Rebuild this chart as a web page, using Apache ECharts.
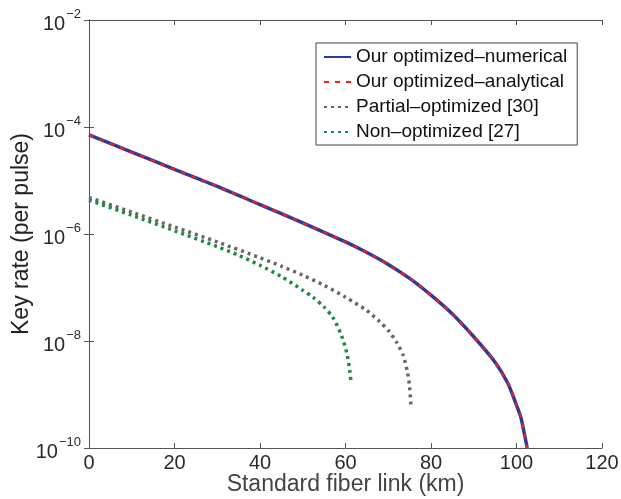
<!DOCTYPE html>
<html>
<head>
<meta charset="utf-8">
<script src="https://cdn.jsdelivr.net/npm/echarts@6/dist/echarts.min.js"></script>
<style>html,body{margin:0;padding:0;background:#fff}#c{width:621px;height:499px}</style>
</head>
<body>
<div id="c"></div>
<script>
// Data (x in km, y = key rate per pulse)
const numericalKm = [0, 10, 20, 30, 40, 50, 60, 65, 70, 75, 80, 85, 90, 95, 98, 100, 101, 102, 102.5];
const numericalRate = [7.1e-5, 3.4e-5, 1.62e-5, 7.8e-6, 3.55e-6, 1.62e-6, 7.1e-7, 4.5e-7, 2.7e-7, 1.48e-7, 7.2e-8, 3.2e-8, 1.2e-8, 4.0e-9, 1.6e-9, 6.3e-10, 3.8e-10, 1.6e-10, 1.0e-10];
const analyticalKm = [0, 10, 20, 30, 40, 50, 60, 65, 70, 75, 80, 85, 90, 95, 98, 100, 101, 102, 102.5];
const analyticalRate = [7.1e-5, 3.4e-5, 1.62e-5, 7.8e-6, 3.55e-6, 1.62e-6, 7.1e-7, 4.5e-7, 2.7e-7, 1.48e-7, 7.2e-8, 3.2e-8, 1.2e-8, 4.0e-9, 1.6e-9, 6.3e-10, 3.8e-10, 1.6e-10, 1.0e-10];
const partialKm = [0, 10, 20, 30, 40, 45, 50, 55, 60, 65, 68, 70, 72, 73.5, 74.5, 75, 75.3];
const partialRate = [4.8e-6, 2.57e-6, 1.35e-6, 7.1e-7, 3.6e-7, 2.5e-7, 1.7e-7, 1.1e-7, 6.6e-8, 3.7e-8, 2.3e-8, 1.58e-8, 9.3e-9, 5.4e-9, 2.6e-9, 1.4e-9, 6.3e-10];
const nonKm = [0, 10, 20, 30, 35, 40, 45, 50, 52.5, 55, 57, 59, 60.3, 61, 61.3];
const nonRate = [4.3e-6, 2.24e-6, 1.15e-6, 5.8e-7, 4.0e-7, 2.6e-7, 1.6e-7, 8.9e-8, 6.5e-8, 4.3e-8, 2.8e-8, 1.3e-8, 6.0e-9, 2.8e-9, 1.66e-9];
const seriesNames = ['Our optimized\u2013numerical', 'Our optimized\u2013analytical', 'Partial\u2013optimized [30]', 'Non\u2013optimized [27]'];
const xTicks = [0, 20, 40, 60, 80, 100, 120];
const yTickExponents = [-10, -8, -6, -4, -2];

const zip = (a, b) => a.map((v, i) => [v, b[i]]);
const font = 'Liberation Sans, Arial, sans-serif';
const txt = '#2a2a2a';

const chart = echarts.init(document.getElementById('c'));
chart.setOption({
  animation: false,
  backgroundColor: '#fff',
  grid: { left: 89, right: 19, top: 20, bottom: 51, containLabel: false, outerBoundsMode: 'none' },
  legend: {
    orient: 'vertical', left: 316, top: 43,
    backgroundColor: '#fff', borderColor: '#444', borderWidth: 1,
    padding: [4, 10, 3, 7], itemGap: 5, itemWidth: 27, itemHeight: 14,
    itemStyle: { opacity: 0 },
    textStyle: { fontFamily: font, fontSize: 19, lineHeight: 20, color: '#111' },
    data: seriesNames
  },
  xAxis: [{
    type: 'value', min: xTicks[0], max: xTicks[xTicks.length - 1], interval: 20,
    name: 'Standard fiber link (km)', nameLocation: 'middle', nameGap: 25, nameMoveOverlap: false,
    nameTextStyle: { fontFamily: font, fontSize: 23, color: '#444' },
    axisLine: { lineStyle: { color: '#555', width: 1 } },
    axisTick: { inside: true, length: 5, lineStyle: { color: '#555' } },
    axisLabel: { fontFamily: font, fontSize: 20, color: txt, margin: 5 },
    splitLine: { show: false }
  }, {
    type: 'value', position: 'top', min: 0, max: 120, interval: 20,
    axisLine: { lineStyle: { color: '#555', width: 1 } },
    axisTick: { inside: true, length: 5, lineStyle: { color: '#555' } },
    axisLabel: { show: false }, splitLine: { show: false }
  }],
  yAxis: [{
    type: 'log', logBase: 100, min: Math.pow(10, yTickExponents[0]), max: Math.pow(10, yTickExponents[yTickExponents.length - 1]),
    name: 'Key rate (per pulse)', nameLocation: 'middle', nameGap: 56, nameRotate: 90, nameMoveOverlap: false,
    nameTextStyle: { fontFamily: font, fontSize: 23, color: '#222' },
    axisLine: { lineStyle: { color: '#555', width: 1 } },
    axisTick: { inside: true, length: 5, lineStyle: { color: '#555' } },
    minorTick: { show: false },
    axisLabel: {
      margin: 8,
      formatter: v => '{b|10}{s|\u2212' + Math.abs(Math.round(Math.log10(v))) + '}',
      rich: {
        b: { fontFamily: font, fontSize: 20, color: txt, padding: [8, 0, 0, 0] },
        s: { fontFamily: font, fontSize: 13, color: txt, padding: [0, 0, 12, 1] }
      }
    },
    splitLine: { show: false }
  }, {
    type: 'log', logBase: 100, min: 1e-10, max: 1e-2, position: 'right',
    axisLine: { lineStyle: { color: '#555', width: 1 } },
    axisTick: { inside: true, length: 5, lineStyle: { color: '#555' } },
    axisLabel: { show: false }, splitLine: { show: false }
  }],
  series: [{
    name: seriesNames[0], type: 'line', symbol: 'none', smooth: 0.25,
    data: zip(numericalKm, numericalRate),
    lineStyle: { color: '#2e3b96', width: 3.5 }, itemStyle: { color: '#2e3b96' }, z: 2
  }, {
    name: seriesNames[1], type: 'line', symbol: 'none', smooth: 0.25,
    data: zip(analyticalKm, analyticalRate),
    lineStyle: { color: '#ff1a1a', width: 2, type: [5, 6] }, itemStyle: { color: '#ff1a1a' }, z: 3
  }, {
    name: seriesNames[2], type: 'line', symbol: 'none', smooth: 0.25,
    data: zip(partialKm, partialRate),
    lineStyle: { color: '#666666', width: 3.5, type: [3, 4] }, itemStyle: { color: '#666666' }, z: 2
  }, {
    name: seriesNames[3], type: 'line', symbol: 'none', smooth: 0.25,
    data: zip(nonKm, nonRate),
    lineStyle: { color: '#1e8a3e', width: 3.5, type: [3, 4] }, itemStyle: { color: '#1e8a3e' }, z: 2
  }]
});
</script>
</body>
</html>
